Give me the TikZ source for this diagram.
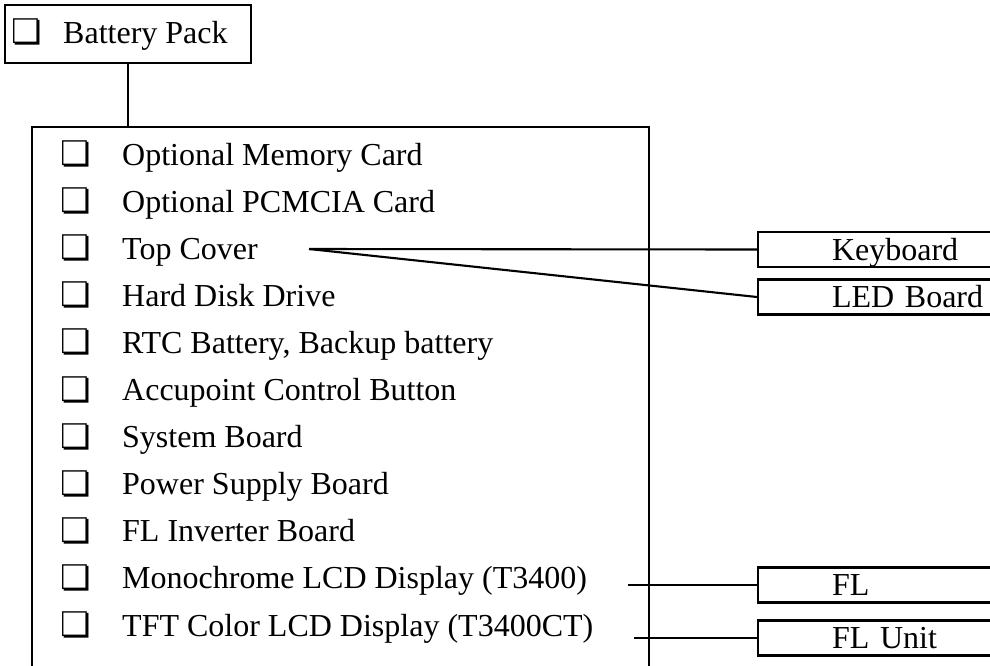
\documentclass[tikz,border=0pt]{standalone}
\usepackage{fontspec}
\setmainfont{Liberation Serif}
\newfontfamily\symfont{DejaVu Sans}
\newcommand{\chkbox}{{\symfont\fontsize{34}{36}\selectfont ❏}}
\begin{document}
\begin{tikzpicture}[x=1pt,y=-1pt,
  every node/.style={font=\fontsize{32}{38}\selectfont},
  ln/.style={line width=2.1pt},
  chk/.style={inner sep=0pt, anchor=center},
  itm/.style={inner sep=0pt, anchor=base west},
  rbox/.style={draw, line width=2.1pt, anchor=west, minimum height=35pt, text width=180pt,
    align=left, inner xsep=74pt, inner ysep=0pt, text height=21pt, text depth=0pt}]
\useasboundingbox (0,0) rectangle (990,665);
\clip (0,0) rectangle (990,665);
% battery pack
\node[draw, line width=2.1pt, minimum width=246pt, minimum height=58pt, inner sep=0pt] (bp) at (128,34) {};
\node[chk] (bpchk) at (27,32) {\chkbox};
\node[itm] (bptxt) at (63,43) {Battery Pack};
\coordinate (lsttop) at (128,127);
\draw[ln] (bp.south) -- (lsttop);
% list box (open at the bottom)
\coordinate (lbl) at (32,700);
\coordinate (lbr) at (649,700);
\draw[ln] (lbl) -- (32,127) -- (649,127) -- (lbr);
% items
\foreach \i/\t in {0/Optional Memory Card, 1/Optional PCMCIA Card, 2/Top Cover, 3/Hard Disk Drive,
  4/{RTC Battery, Backup battery}, 5/Accupoint Control Button, 6/System Board,
  7/Power Supply Board, 8/FL Inverter Board, 9/Monochrome LCD Display (T3400),
  10/TFT Color LCD Display (T3400CT)}{
  \pgfmathsetmacro{\yb}{165+47.1*\i}
  \node[chk] (c\i) at (76,\yb-11) {\chkbox};
  \node[itm] (t\i) at (122,\yb) {\t};
}
% right boxes
\node[rbox] (kb) at (757,249.5) {Keyboard};
\node[rbox] (led) at (757,297) {LED Board};
\node[rbox] (fl) at (757,585) {FL};
\node[rbox] (flu) at (757,638) {FL Unit};
% connectors
\coordinate (tc) at (309,249);
\draw[ln] (tc) -- (kb.west);
\draw[ln] (tc) -- (led.west);
\coordinate (mo) at (628,585);
\draw[ln] (mo) -- (fl.west);
\coordinate (tf) at (634,638);
\draw[ln] (tf) -- (flu.west);
\end{tikzpicture}
\end{document}
